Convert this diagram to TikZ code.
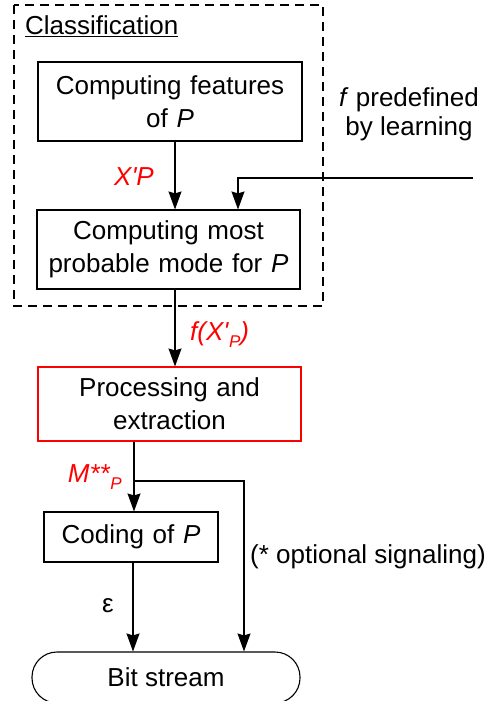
\documentclass[tikz,border=0pt]{standalone}
\usepackage{fontspec}
\setmainfont{Liberation Sans}
\usetikzlibrary{arrows.meta}
\definecolor{lblred}{RGB}{255,0,0}
\newcommand{\subP}{\raisebox{-0.3em}{\fontsize{17}{17}\selectfont\textit{P}}}
\begin{document}
\begin{tikzpicture}[x=1pt,y=1pt,
  box/.style={draw, line width=1.1pt, inner sep=0pt, align=center, font=\fontsize{26}{33}\selectfont},
  lbl/.style={inner sep=0pt, font=\fontsize{26}{33}\selectfont},
  redlbl/.style={lbl, text=lblred},
  arr/.style={line width=1.1pt, -{Stealth[length=18pt,width=13pt,inset=2pt]}},
  conn/.style={line width=1.1pt}]
\useasboundingbox (0,0) rectangle (492,-701);
% dashed group
\draw[line width=1.1pt, dash pattern=on 9pt off 6pt] (14,-5) rectangle (323,-306);
\node[lbl, anchor=base west] (cls) at (25,-35) {\underline{Classification}};
% boxes
\node[box, text width=264pt, minimum height=79pt] (b1) at (170,-101.5) {Computing features\\of \textit{P}};
\node[box, text width=263pt, minimum height=79pt] (b2) at (168.5,-249.5) {Computing most\\probable mode for \textit{P}};
\node[box, draw=lblred, text width=263pt, minimum height=74pt] (b3) at (169.5,-404) {Processing and\\extraction};
\node[box, text width=174pt, minimum height=50pt] (b4) at (131,-537) {Coding of \textit{P}};
\node[box, rounded corners=25pt, minimum width=268pt, minimum height=51pt] (bs) at (166,-677.5) {Bit stream};
% labels
\node[redlbl, anchor=base] (xp) at (134,-185) {\textit{X\textquotesingle P}};
\node[redlbl, anchor=base west] (fx) at (190,-340) {\textit{f(X\textquotesingle}\subP\textit{)}};
\node[redlbl, anchor=base east] (mp) at (122,-482) {\textit{M**}\subP};
\node[lbl, anchor=base] (eps) at (108,-612) {ε};
\node[lbl, anchor=base west] (opt) at (250,-563) {(* optional signaling)};
\node[lbl, align=center, font=\fontsize{26}{29}\selectfont, anchor=base] (fpre) at (409,-135) {\textit{f} predefined\\by learning};
% coordinates
\coordinate (xa) at (175,0);
\coordinate (xf) at (238,0);
\coordinate (fin) at (473,-178);
\coordinate (xc) at (134,0);
\coordinate (xo) at (244,0);
\coordinate (yb) at (0,-481);
\coordinate (xd) at (133,0);
% connectors
\draw[arr] (b1.south -| xa) -- (b2.north -| xa);
\draw[arr] (fin) -| (b2.north -| xf);
\draw[arr] (b2.south -| xa) -- (b3.north -| xa);
\draw[arr] (b3.south -| xc) -- (b4.north -| xc);
\draw[arr] (xc |- yb) -| (bs.north -| xo);
\draw[arr] (b4.south -| xd) -- (bs.north -| xd);
\end{tikzpicture}
\end{document}
